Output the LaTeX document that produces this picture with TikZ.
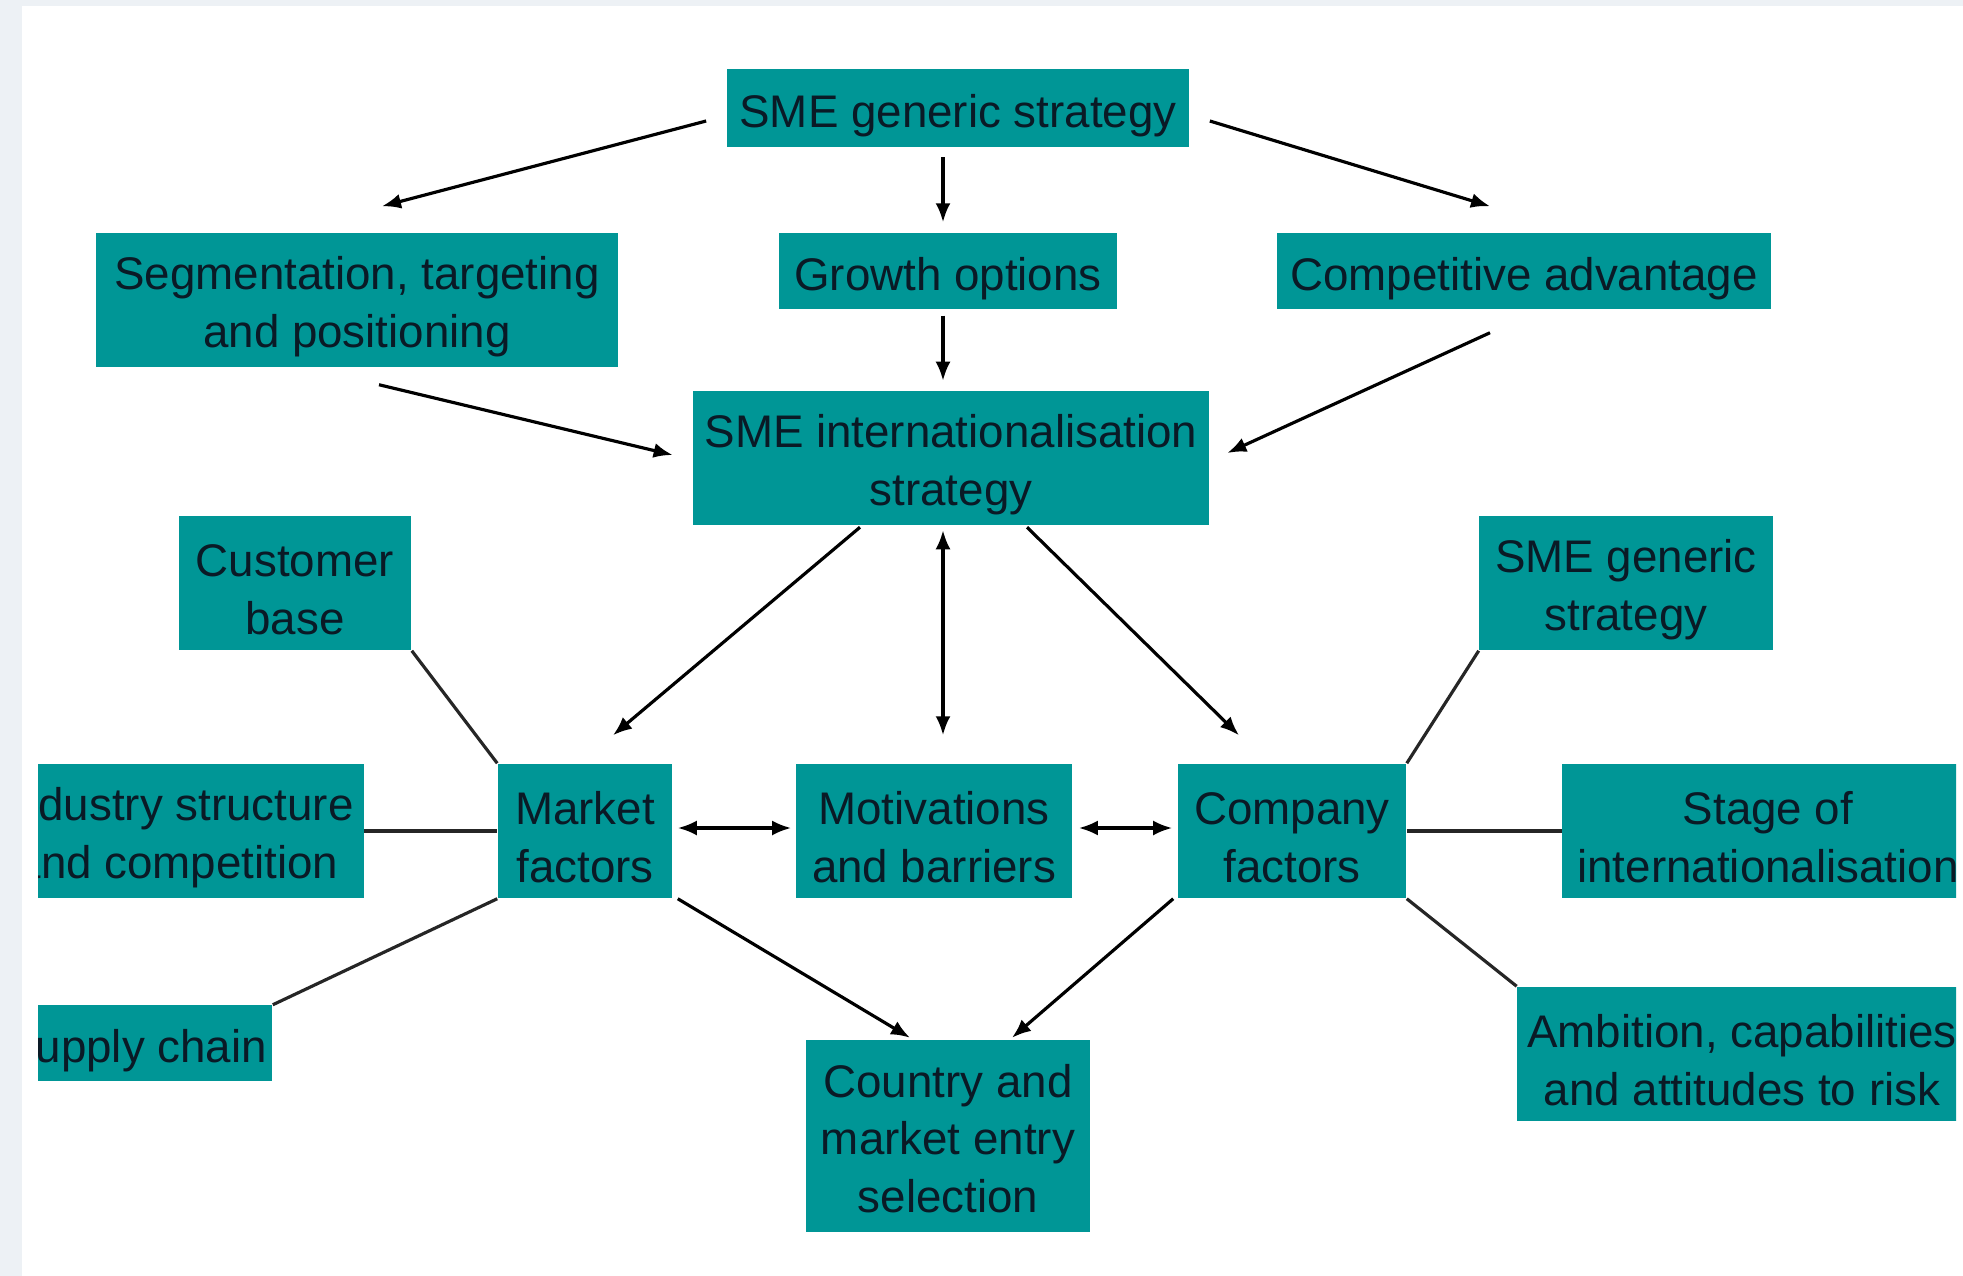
\documentclass[tikz,border=0pt]{standalone}
\usepackage{fontspec}
\setmainfont{Liberation Sans}
\usetikzlibrary{arrows.meta,calc}
\definecolor{tealbox}{RGB}{0,150,150}
\definecolor{boxtext}{RGB}{10,26,38}
\definecolor{frame}{RGB}{237,241,245}

\begin{document}
\begin{tikzpicture}[x=0.01cm,y=-0.01cm,
  box/.style={shape=rectangle,fill=tealbox,text=boxtext,align=center,inner sep=0pt,font=\fontsize{13}{16.4}\selectfont,execute at begin node={\rule{0pt}{#1}}},
  box/.default=14pt,
  arr/.style={-{Latex[length=0.19cm,width=0.15cm]},draw=black,line width=0.9pt},
  dbl/.style={{Latex[length=0.19cm,width=0.15cm]}-{Latex[length=0.19cm,width=0.15cm]},draw=black,line width=0.9pt},
  link/.style={draw=black!85,line width=0.9pt}]
\useasboundingbox (0,0) rectangle (1963,1276);
\fill[frame] (0,0) rectangle (1963,1276);
\fill[white] (22,6) rectangle (1963,1276);
\begin{scope}
\clip (38,6) rectangle (1956,1276);
\node[box,minimum width=4.62cm,minimum height=0.77cm] (top) at (958,108) {SME generic strategy};
\node[box=29.5pt,minimum width=5.22cm,minimum height=1.34cm] (seg) at (357,300) {Segmentation, targeting\\and positioning};
\node[box,minimum width=3.37cm,minimum height=0.76cm] (growth) at (948,271) {Growth options};
\node[box,minimum width=4.93cm,minimum height=0.76cm] (comp) at (1524,271) {Competitive advantage};
\node[box=29.5pt,minimum width=5.15cm,minimum height=1.33cm] (intl) at (951,458) {SME internationalisation\\strategy};
\node[box=29.5pt,minimum width=2.32cm,minimum height=1.34cm] (customer) at (295,583) {Customer\\base};
\node[box=29.5pt,minimum width=2.93cm,minimum height=1.34cm] (smeR) at (1626,583) {SME generic\\strategy};
\node[box=29.5pt,minimum width=3.73cm,minimum height=1.34cm] (industry) at (177,831) {Industry structure\\and competition};
\node[box=29.5pt,minimum width=1.74cm,minimum height=1.34cm] (market) at (585,831) {Market\\factors};
\node[box=29.5pt,minimum width=2.76cm,minimum height=1.34cm] (motiv) at (934,831) {Motivations\\and barriers};
\node[box=29.5pt,minimum width=2.28cm,minimum height=1.34cm] (company) at (1292,831) {Company\\factors};
\node[box=29.5pt,minimum width=4.11cm,minimum height=1.34cm] (stage) at (1768,831) {Stage of\\internationalisation};
\node[box,minimum width=2.72cm,minimum height=0.75cm] (supply) at (136,1043) {Supply chain};
\node[box=29.5pt,minimum width=4.49cm,minimum height=1.34cm] (ambition) at (1742,1054) {Ambition, capabilities\\and attitudes to risk};
\node[box=43.7pt,minimum width=2.84cm,minimum height=1.91cm] (country) at (948,1136) {Country and\\market entry\\selection};

\draw[arr] ($(top.west)+(-20,13)$) -- ($(seg.north)+(25,-26)$);
\draw[arr] ($(top.south)+(-15,10)$) -- ($(growth.north)+(-5,-10)$);
\draw[arr] ($(top.east)+(20,13)$) -- ($(comp.north)+(-34,-26)$);
\draw[arr] ($(growth.south)+(-5,6)$) -- ($(intl.north)+(-8,-10)$);
\draw[arr] ($(seg.south)+(22,17)$) -- ($(intl.west)+(-20,-3)$);
\draw[arr] ($(comp.south)+(-34,23)$) -- ($(intl.east)+(18,-5)$);
\draw[arr] ($(intl.south)+(-91,2)$) -- ($(market.north)+(28,-28)$);
\draw[dbl] ($(intl.south)+(-8,5)$) -- ($(motiv.north)+(9,-28)$);
\draw[arr] ($(intl.south)+(76,2)$) -- ($(company.north)+(-53,-28)$);
\draw[dbl] ($(market.east)+(5,-3)$) -- ($(motiv.west)+(-4,-3)$);
\draw[dbl] ($(motiv.east)+(6,-3)$) -- ($(company.west)+(-5,-3)$);
\draw[arr] ($(market.south east)+(5,0)$) -- ($(country.north)+(-38,-2)$);
\draw[arr] ($(company.south west)+(-4,0)$) -- ($(country.north)+(64,-2)$);

\draw[link] (customer.south east) -- (market.north west);
\draw[link] (industry.east) -- (market.west);
\draw[link] (supply.north east) -- (market.south west);
\draw[link] (smeR.south west) -- (company.north east);
\draw[link] (company.east) -- (stage.west);
\draw[link] (company.south east) -- (ambition.north west);
\end{scope}
\end{tikzpicture}
\end{document}
